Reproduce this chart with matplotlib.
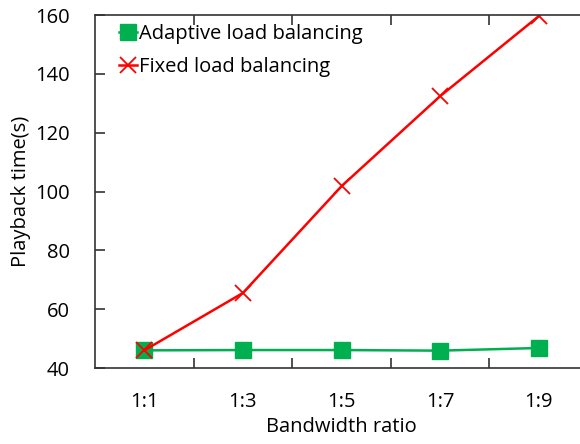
import matplotlib.pyplot as plt

plt.rcParams['font.family'] = ['Open Sans', 'DejaVu Sans']

ratios = ["1:1", "1:3", "1:5", "1:7", "1:9"]
adaptive = [46.0, 46.1, 46.1, 45.9, 46.8]
fixed = [46.0, 65.5, 101.8, 132.4, 159.6]

fig = plt.figure(figsize=(5.8, 4.44), dpi=100)
# axes box runs slightly past the right edge, like the original
ax = fig.add_axes([95 / 580, 1 - 368 / 444, 493 / 580, 353 / 444])

x = list(range(1, len(ratios) + 1))
ax.plot(x, adaptive, "-s", color="#00B050", markersize=11, linewidth=1.8,
        label="Adaptive load balancing")
ax.plot(x, fixed, "-x", color="#FF0000", markersize=11, markeredgewidth=1.3,
        linewidth=1.8, label="Fixed load balancing")

ax.set_xlim(0.5, 5.5)
ax.set_ylim(40, 160)
ax.set_yticks(range(40, 161, 20))
ax.set_xticks(x)
ax.set_xticklabels(ratios)
ax.set_xticks([1.5, 2.5, 3.5, 4.5], minor=True)
ax.tick_params(axis="x", which="major", length=0, pad=17, labelsize=14.5)
ax.tick_params(axis="x", which="minor", direction="in", length=7,
               top=True, bottom=True, width=1.2, color="#333333")
ax.tick_params(axis="y", direction="in", length=7, labelsize=14.5, pad=18,
               width=1.2, color="#333333")
for s in ax.spines.values():
    s.set_color("#333333")
    s.set_linewidth(1.2)

ax.set_xlabel("Bandwidth ratio", fontsize=14.5, labelpad=4)
ax.set_ylabel("Playback time(s)", fontsize=14.5, labelpad=3)

ax.legend(loc="upper left", frameon=False, fontsize=14.5, handlelength=0.9,
          handletextpad=0.1, borderaxespad=0.3, labelspacing=0.65,
          bbox_to_anchor=(0.02, 1.015))

fig.savefig("out.png", dpi=100)
